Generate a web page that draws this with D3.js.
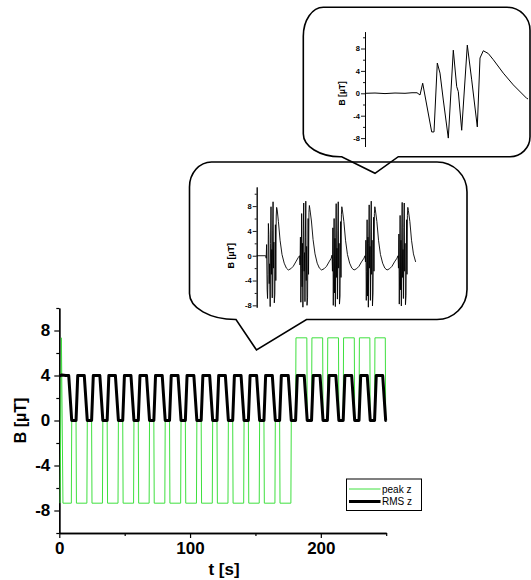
<!DOCTYPE html>
<html>
<head>
<meta charset="utf-8">
<script src="https://cdn.jsdelivr.net/npm/d3@7/dist/d3.min.js"></script>
<style>
  body { margin: 0; background: #fff; }
  svg { display: block; font-family: "Liberation Sans", Arial, sans-serif; }
</style>
</head>
<body>
<svg id="chart" width="531" height="580"></svg>
<script>
// ---- main panel data: [t (s), B (uT)] ----
const rmsZ = [
  [0, 3.95], [2, 4.05], [5, 4.0],
  [7.2, 4], [9.5, 0], [12.8, 0], [14.1, 4],
  [19.1, 4], [21.4, 0], [24.7, 0], [26.0, 4],
  [31.0, 4], [33.3, 0], [36.6, 0], [37.9, 4],
  [42.9, 4], [45.2, 0], [48.5, 0], [49.8, 4],
  [54.8, 4], [57.1, 0], [60.4, 0], [61.7, 4],
  [66.7, 4], [69.0, 0], [72.3, 0], [73.6, 4],
  [78.7, 4], [81.0, 0], [84.3, 0], [85.6, 4],
  [90.8, 4], [93.1, 0], [96.4, 0], [97.7, 4],
  [102.9, 4], [105.2, 0], [108.5, 0], [109.8, 4],
  [115.0, 4], [117.3, 0], [120.6, 0], [121.9, 4],
  [127.0, 4], [129.3, 0], [132.6, 0], [133.9, 4],
  [139.0, 4], [141.3, 0], [144.6, 0], [145.9, 4],
  [150.9, 4], [153.2, 0], [156.5, 0], [157.8, 4],
  [162.9, 4], [165.2, 0], [168.5, 0], [169.8, 4],
  [175.1, 4], [177.4, 0], [180.7, 0], [182.0, 4],
  [187.3, 4], [189.6, 0], [192.9, 0], [194.2, 4],
  [199.4, 4], [201.7, 0], [205.0, 0], [206.3, 4],
  [211.5, 4], [213.8, 0], [217.1, 0], [218.4, 4],
  [223.6, 4], [225.9, 0], [229.2, 0], [230.5, 4],
  [235.5, 4], [237.8, 0], [241.1, 0], [242.4, 4],
  [247.3, 4], [249.6, 0], [250.3, 0]
];

const peakZ = [
  [0.6, -7.35], [1.6, 7.35], [2.8, -7.35],
  [9.2, -7.35], [9.5, 0], [12.8, 0], [13.1, -7.35],
  [21.1, -7.35], [21.4, 0], [24.7, 0], [25.0, -7.35],
  [33.0, -7.35], [33.3, 0], [36.6, 0], [36.9, -7.35],
  [44.9, -7.35], [45.2, 0], [48.5, 0], [48.8, -7.35],
  [56.8, -7.35], [57.1, 0], [60.4, 0], [60.7, -7.35],
  [68.7, -7.35], [69.0, 0], [72.3, 0], [72.6, -7.35],
  [80.7, -7.35], [81.0, 0], [84.3, 0], [84.6, -7.35],
  [92.8, -7.35], [93.1, 0], [96.4, 0], [96.7, -7.35],
  [104.9, -7.35], [105.2, 0], [108.5, 0], [108.8, -7.35],
  [117.0, -7.35], [117.3, 0], [120.6, 0], [120.9, -7.35],
  [129.0, -7.35], [129.3, 0], [132.6, 0], [132.9, -7.35],
  [141.0, -7.35], [141.3, 0], [144.6, 0], [144.9, -7.35],
  [152.9, -7.35], [153.2, 0], [156.5, 0], [156.8, -7.35],
  [164.9, -7.35], [165.2, 0], [168.5, 0], [168.8, -7.35],
  [177.1, -7.35], [177.4, 0], [180.7, 0], [181.0, 7.35],
  [189.3, 7.35], [189.6, 0], [192.9, 0], [193.2, 7.35],
  [201.4, 7.35], [201.7, 0], [205.0, 0], [205.3, 7.35],
  [213.5, 7.35], [213.8, 0], [217.1, 0], [217.4, 7.35],
  [225.6, 7.35], [225.9, 0], [229.2, 0], [229.5, 7.35],
  [237.5, 7.35], [237.8, 0], [241.1, 0], [241.4, 7.35],
  [249.3, 7.35], [249.6, 0]
];

const xMajor = [0, 100, 200];
const xMinor = [50, 150, 250];
const yMajor = [-8, -4, 0, 4, 8];
const yMinor = [-10, -6, -2, 2, 6, 10];
const legendItems = [
  { name: 'peak z', color: '#3fe03f', width: 1 },
  { name: 'RMS z', color: '#000', width: 3 }
];

// ---- inset 1 (several bursts), [t (s), B (uT)] ----
const burst1 = [
  [0, 0], [3.1, 0.0], [3.3, 0.0], [3.45, -0.4], [3.6, 1.8], [3.8, -5.5], [3.95, -6.9],
  [4.1, -3.0], [4.25, 5.2], [4.4, 3.4], [4.55, -4.5], [4.7, -1.3], [4.9, -8.2], [5.05, 2.0],
  [5.2, 7.9], [5.35, -3.0], [5.5, 1.0], [5.65, -6.8], [5.8, 4.0], [5.95, 8.7], [6.1, -2.0],
  [6.25, 2.2], [6.4, -7.6], [6.6, -6.2], [6.8, 5.0], [6.95, -4.0], [7.1, 6.4], [7.25, 7.8],
  [7.45, 7.4], [7.9, 5.5], [8.5, 2.5], [9.2, 0.2], [10.0, -1.2], [10.8, -2.0], [11.5, -2.3],
  [12.4, -2.1], [13.3, -1.7], [14.2, -1.0], [15.1, -0.3]
];
const burst2 = [
  [15.6, 0.0], [15.75, -1.5], [15.9, 3.0], [16.05, -7.5], [16.2, -2.0], [16.35, 6.8],
  [16.5, -5.0], [16.65, 2.0], [16.8, -8.3], [16.95, 4.0], [17.1, 8.5], [17.25, -2.5],
  [17.4, 0.5], [17.55, -7.4], [17.7, 3.0], [17.85, 8.8], [18.0, -4.0], [18.15, 1.5],
  [18.3, -8.0], [18.5, -6.8], [18.7, 6.0], [18.85, -3.0], [19.0, 7.0], [19.15, 8.1],
  [19.35, 7.5], [19.9, 5.6], [20.5, 2.6], [21.2, 0.3], [22.0, -1.2], [22.8, -2.0],
  [23.6, -2.3], [24.5, -2.1], [25.4, -1.7], [26.3, -1.0], [27.1, -0.4]
];
const burst3 = [
  [27.4, 0.1], [27.55, -2.5], [27.7, 4.5], [27.85, -8.0], [28.0, -1.0], [28.15, 6.0],
  [28.3, -6.0], [28.45, 2.8], [28.6, -8.2], [28.75, 3.0], [28.9, 8.4], [29.05, -3.5],
  [29.2, 1.2], [29.35, -7.0], [29.5, 4.0], [29.65, 8.7], [29.8, -2.0], [29.95, 2.0],
  [30.1, -7.8], [30.3, -6.5], [30.5, 5.5], [30.65, -3.5], [30.8, 6.6], [30.95, 7.9],
  [31.15, 7.4], [31.7, 5.5], [32.3, 2.5], [33.0, 0.2], [33.8, -1.2], [34.6, -2.0],
  [35.4, -2.3], [36.3, -2.1], [37.2, -1.7], [38.1, -1.0], [39.0, -0.4]
];
const burst4 = [
  [39.4, 0.0], [39.55, -1.0], [39.7, 2.5], [39.85, -7.2], [40.0, -2.5], [40.15, 5.8],
  [40.3, -6.5], [40.45, 3.0], [40.6, -8.3], [40.75, 2.0], [40.9, 8.2], [41.05, -2.0],
  [41.2, 1.5], [41.35, -7.2], [41.5, 3.5], [41.65, 8.8], [41.8, -3.0], [41.95, 2.5],
  [42.1, -8.1], [42.3, -6.0], [42.5, 6.2], [42.65, -2.5], [42.8, 6.8], [42.95, 7.9],
  [43.15, 7.4], [43.7, 5.5], [44.3, 2.5], [45.0, 0.2], [45.8, -1.2], [46.6, -2.0],
  [47.4, -2.3], [48.3, -2.1], [49.2, -1.7], [50.1, -1.0], [51.0, -0.4]
];
const burst5 = [
  [51.4, 0.0], [51.55, -2.0], [51.7, 3.5], [51.85, -7.8], [52.0, -1.5], [52.15, 6.5],
  [52.3, -5.5], [52.45, 2.5], [52.6, -8.1], [52.75, 3.5], [52.9, 8.6], [53.05, -3.5],
  [53.2, 1.0], [53.35, -6.9], [53.5, 4.5], [53.65, 8.5], [53.8, -2.5], [53.95, 2.0],
  [54.1, -7.9], [54.3, -6.4], [54.5, 5.8], [54.65, -3.0], [54.8, 6.5], [54.95, 7.8],
  [55.15, 7.3], [55.7, 5.5], [56.3, 2.5], [57.0, 0.3], [57.8, -1.0]
];

// ---- inset 2 (single burst), [t (ms), B (uT)] ----
const burstZoom = [
  [0, 0], [10, 0.05], [20, -0.05], [30, 0.05], [40, 0], [47, 0.1], [52, 0.1],
  [55, -0.3], [57.7, 1.8], [66.7, -6.9], [69, -6.9], [72.3, 5.4], [75, 3.6],
  [78.3, -1.2], [83.3, -8.0], [88.3, 7.7], [91.7, 1.2], [93.3, 0.3], [96.7, -6.6],
  [102.3, 8.6], [106.7, 2.4], [112.3, -6.0], [115, 6.3], [118.3, 7.6], [123.3, 7.1],
  [128.3, 6.0], [138.3, 3.6], [148.3, 1.5], [161.7, -0.9], [163, -1.0]
];
const insetTicks = [-8, -4, 0, 4, 8];
const insetMinor = [-6, -2, 2, 6, 10];

const svg = d3.select('#chart');

// ===== main panel =====
const x = d3.scaleLinear().domain([0, 250]).range([59.3, 386.2]);
const y = d3.scaleLinear().domain([-10, 10]).range([533, 308]);
const main = svg.append('g');

function styleAxis(g, size) {
  g.select('.domain').attr('stroke', '#000').attr('stroke-width', 1.3);
  g.selectAll('.tick line').attr('stroke', '#000').attr('stroke-width', 1.2);
  g.selectAll('text').attr('fill', '#000').style('font-size', size + 'px').style('font-weight', 'bold');
}

main.append('g')
  .attr('transform', `translate(0,${y(-10)})`)
  .call(d3.axisBottom(x).tickValues(xMinor).tickSize(3).tickSizeOuter(0).tickFormat(''))
  .call(g => styleAxis(g, 17));
main.append('g')
  .attr('transform', `translate(0,${y(-10)})`)
  .call(d3.axisBottom(x).tickValues(xMajor).tickSize(5).tickSizeOuter(0).tickPadding(4).tickFormat(d => String(d)))
  .call(g => styleAxis(g, 17));
main.append('g')
  .attr('transform', `translate(${x(0)},0)`)
  .call(d3.axisLeft(y).tickValues(yMinor).tickSize(3).tickSizeOuter(0).tickFormat(''))
  .call(g => styleAxis(g, 17));
main.append('g')
  .attr('transform', `translate(${x(0)},0)`)
  .call(d3.axisLeft(y).tickValues(yMajor).tickSize(5).tickSizeOuter(0).tickPadding(4).tickFormat(d => String(d)))
  .call(g => styleAxis(g, 17));

main.append('text')
  .attr('x', 224).attr('y', 575)
  .attr('text-anchor', 'middle')
  .style('font-size', '17px').style('font-weight', 'bold')
  .text('t [s]');
main.append('text')
  .attr('transform', `translate(26,${y(0)}) rotate(-90)`)
  .attr('text-anchor', 'middle')
  .style('font-size', '16px').style('font-weight', 'bold')
  .text('B [µT]');

const lineMain = d3.line().x(d => x(d[0])).y(d => y(d[1]));
main.append('path')
  .datum(peakZ)
  .attr('fill', 'none')
  .attr('stroke', legendItems[0].color)
  .attr('stroke-width', 1)
  .attr('d', lineMain);
main.append('path')
  .datum(rmsZ)
  .attr('fill', 'none')
  .attr('stroke', '#000')
  .attr('stroke-width', 3)
  .attr('stroke-linejoin', 'round')
  .attr('d', lineMain);

// legend
const legend = main.append('g').attr('transform', 'translate(346.5,479)');
legend.append('rect')
  .attr('width', 75).attr('height', 31.5)
  .attr('fill', '#fff').attr('stroke', '#000').attr('stroke-width', 1);
legend.selectAll('g.item')
  .data(legendItems)
  .enter()
  .append('g')
  .attr('transform', (d, i) => `translate(0,${10 + i * 12.5})`)
  .each(function(d) {
    const g = d3.select(this);
    g.append('line').attr('x1', 2.5).attr('x2', 34).attr('stroke', d.color).attr('stroke-width', d.width);
    g.append('text').attr('x', 35.5).attr('y', 3.6).style('font-size', '10px').text(d.name);
  });

// ===== speech bubbles =====
function bubblePath(b) {
  const [x0, y0, x1, y1] = b.box, t = b.tail;
  return [
    `M${x0},${y0 + b.tl[1]}`,
    `A${b.tl[0]},${b.tl[1]} 0 0 1 ${x0 + b.tl[0]},${y0}`,
    `L${x1 - b.tr[0]},${y0}`,
    `A${b.tr[0]},${b.tr[1]} 0 0 1 ${x1},${y0 + b.tr[1]}`,
    `L${x1},${y1 - b.br[1]}`,
    `A${b.br[0]},${b.br[1]} 0 0 1 ${x1 - b.br[0]},${y1}`,
    `L${t[2]},${y1}`,
    `L${t[1][0]},${t[1][1]}`,
    `L${t[0]},${y1}`,
    `L${x0 + b.bl[0]},${y1}`,
    `A${b.bl[0]},${b.bl[1]} 0 0 1 ${x0},${y1 - b.bl[1]}`,
    'Z'
  ].join(' ');
}

function drawInset(cfg) {
  const g = svg.append('g');
  g.append('path')
    .attr('d', bubblePath(cfg.bubble))
    .attr('fill', 'none').attr('stroke', '#000').attr('stroke-width', 1.6)
    .attr('stroke-linejoin', 'miter');
  const xs = d3.scaleLinear().domain(cfg.xDomain).range(cfg.xRange);
  const ys = d3.scaleLinear().domain(cfg.yDomain).range(cfg.yRange);
  g.append('g')
    .attr('transform', `translate(${cfg.xRange[0]},0)`)
    .call(d3.axisLeft(ys).tickValues(insetMinor).tickSize(2).tickSizeOuter(0).tickFormat(''))
    .call(a => styleAxis(a, cfg.font));
  g.append('g')
    .attr('transform', `translate(${cfg.xRange[0]},0)`)
    .call(d3.axisLeft(ys).tickValues(insetTicks).tickSize(4).tickSizeOuter(0).tickPadding(1).tickFormat(d => String(d)))
    .call(a => styleAxis(a, cfg.font));
  g.selectAll('.domain, .tick line').attr('stroke-width', 0.9);
  g.append('text')
    .attr('transform', `translate(${cfg.labelX},${ys(0)}) rotate(-90)`)
    .attr('text-anchor', 'middle')
    .style('font-size', cfg.labelFont + 'px').style('font-weight', 'bold')
    .text('B [µT]');
  g.append('path')
    .datum(cfg.data)
    .attr('fill', 'none').attr('stroke', '#000').attr('stroke-width', cfg.lineWidth)
    .attr('d', d3.line().x(d => xs(d[0])).y(d => ys(d[1])));
}

drawInset({
  bubble: { box: [189.5, 162, 467, 319.5], tl: [22, 25], tr: [30, 30], br: [30, 30], bl: [46, 26],
            tail: [236, [256.5, 350], 306.5] },
  data: d3.merge([burst1, burst2, burst3, burst4, burst5]),
  xDomain: [0, 60], xRange: [256.7, 421.7],
  yDomain: [-8.3, 11.1], yRange: [307.2, 186.9],
  font: 7.5, labelFont: 9, labelX: 233.5, lineWidth: 0.9
});

drawInset({
  bubble: { box: [303.3, 7.3, 530, 156.7], tl: [20, 29], tr: [23, 23], br: [20, 20], bl: [37, 23],
            tail: [341.7, [375, 173.3], 398.3] },
  data: burstZoom,
  xDomain: [0, 165], xRange: [365, 530],
  yDomain: [-9.5, 11], yRange: [146.5, 31.7],
  font: 7.5, labelFont: 8.5, labelX: 345, lineWidth: 1
});
</script>
</body>
</html>
